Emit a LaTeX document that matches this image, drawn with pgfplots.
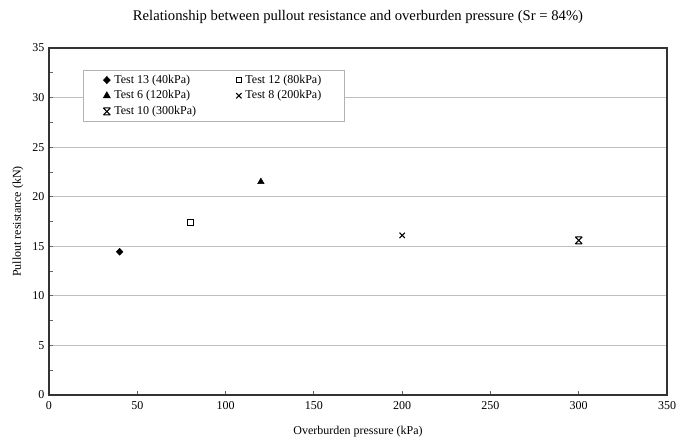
\documentclass[border=0pt]{standalone}
\usepackage{fontspec}
\setmainfont{Liberation Serif}
\usepackage{pgfplots}
\pgfplotsset{compat=1.18}
\pgfdeclareplotmark{xbar}{%
  \pgfpathmoveto{\pgfqpoint{-\pgfplotmarksize}{-\pgfplotmarksize}}%
  \pgfpathlineto{\pgfqpoint{\pgfplotmarksize}{\pgfplotmarksize}}%
  \pgfpathmoveto{\pgfqpoint{-\pgfplotmarksize}{\pgfplotmarksize}}%
  \pgfpathlineto{\pgfqpoint{\pgfplotmarksize}{-\pgfplotmarksize}}%
  \pgfpathmoveto{\pgfqpoint{-\pgfplotmarksize}{\pgfplotmarksize}}%
  \pgfpathlineto{\pgfqpoint{\pgfplotmarksize}{\pgfplotmarksize}}%
  \pgfpathmoveto{\pgfqpoint{-\pgfplotmarksize}{-\pgfplotmarksize}}%
  \pgfpathlineto{\pgfqpoint{\pgfplotmarksize}{-\pgfplotmarksize}}%
  \pgfusepathqstroke}
\begin{document}
\begin{tikzpicture}
\begin{axis}[
  name=ax,
  scale only axis,
  width=463.5pt, height=260.25pt,
  xmin=0, xmax=350, ymin=0, ymax=35,
  xtick={0,50,...,350}, ytick={0,5,...,35},
  minor y tick num=1,
  tick align=inside,
  major tick length=3pt, minor tick length=3pt,
  xtick pos=bottom, ytick pos=left,
  ymajorgrids,
  major grid style={draw=black!25, line width=0.8pt},
  tick style={black!60, line width=0.6pt},
  axis line style={black!80, line width=1pt},
  /pgf/number format/assume math mode=true,
  tick label style={font=\fontsize{9}{10}\selectfont},
  xticklabel style={yshift=-1pt},
  legend columns=2,
  legend cell align=left,
  legend style={at={(0.055,0.937)}, anchor=north west, draw=black!30, line width=0.6pt,
    font=\fontsize{9}{10}\selectfont, inner xsep=15pt, inner ysep=1.5pt, row sep=0pt,
    /tikz/column 2/.style={column sep=28pt},
    /tikz/column 1/.style={column sep=1pt},
    /tikz/column 3/.style={column sep=1pt},
    /tikz/column 4/.style={column sep=4pt}},
  only marks,
]
\addplot[mark=diamond*, mark size=2.6pt, black, mark options={xscale=1.25}] coordinates {(40,14.45)};
\addlegendentry{Test 13 (40kPa)}
\addplot[mark=square, mark size=2pt, black, mark options={line width=0.6pt}] coordinates {(80,17.4)};
\addlegendentry{Test 12 (80kPa)}
\addplot[mark=triangle*, mark size=2.8pt, black] coordinates {(120,21.5)};
\addlegendentry{Test 6 (120kPa)}
\addplot[mark=x, mark size=2.8pt, black, mark options={line width=0.8pt}] coordinates {(200,16.1)};
\addlegendentry{Test 8 (200kPa)}
\addplot[mark=xbar, mark size=2.6pt, black, mark options={line width=0.8pt}] coordinates {(300,15.6)};
\addlegendentry{Test 10 (300kPa)}
\end{axis}
\node[font=\fontsize{11}{12}\selectfont, anchor=center] at ([yshift=23.25pt]ax.north) {Relationship between pullout resistance and overburden pressure (Sr = 84\%)};
\node[font=\fontsize{9}{10}\selectfont, anchor=center] at ([yshift=-27.75pt]ax.south) {Overburden pressure (kPa)};
\node[font=\fontsize{9}{10}\selectfont, anchor=center, rotate=90] at ([xshift=-23.25pt]ax.west) {Pullout resistance (kN)};
\pgfresetboundingbox
\useasboundingbox ([xshift=-36.75pt,yshift=-36pt]ax.south west) rectangle ([xshift=8.25pt,yshift=36pt]ax.north east);
\end{tikzpicture}
\end{document}
